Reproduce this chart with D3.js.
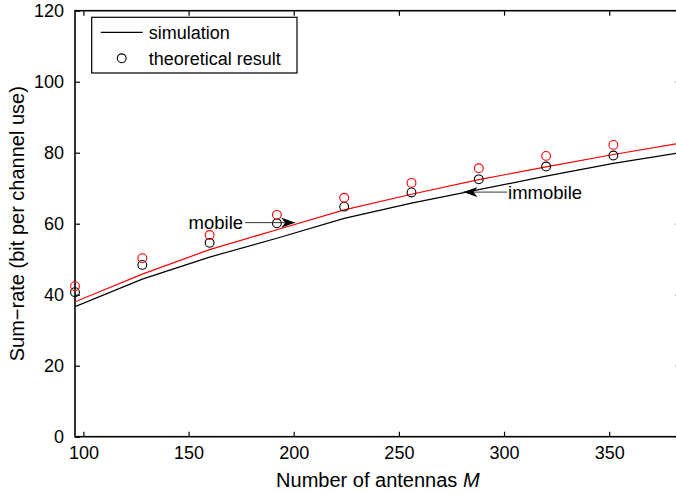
<!DOCTYPE html>
<html lang="en">
  <head>
    <meta charset="UTF-8" />
    <title>Sum-rate vs number of antennas</title>
    <style>
      body {
        margin: 0;
        background: #fff;
        font-family: "Liberation Sans", Arial, sans-serif;
      }
      svg text {
        fill: #000;
      }
    </style>
  </head>
  <body>
    <div id="chart"></div>
    <script src="https://d3js.org/d3.v7.min.js"></script>
    <script>
      // data
      const antennas = [96, 128, 160, 192, 224, 256, 288, 320, 352, 384];
      const simMobile = [38.0, 45.8, 52.7, 58.3, 63.9, 68.3, 72.4, 76.0, 79.5, 82.7];
      const simImmobile = [36.6, 44.4, 50.6, 55.9, 61.5, 65.8, 69.6, 73.4, 77.0, 80.0];
      const theoryM = [96, 128, 160, 192, 224, 256, 288, 320, 352];
      const theoryMobile = [42.4, 50.3, 56.8, 62.5, 67.3, 71.5, 75.6, 79.1, 82.2];
      const theoryImmobile = [40.7, 48.4, 54.6, 60.1, 64.8, 68.8, 72.5, 76.1, 79.2];
      const xTicks = [100, 150, 200, 250, 300, 350];
      const yTicks = [0, 20, 40, 60, 80, 100, 120];

      const width = 676;
      const height = 493;
      const margin = { top: 10.7, left: 75, right: -4.7, bottom: 56.3 };
      const x0 = margin.left, x1 = width - margin.right;
      const y0 = height - margin.bottom, y1 = margin.top;

      const svg = d3
        .select("#chart")
        .append("svg")
        .attr("width", width)
        .attr("height", height);

      const x = d3.scaleLinear().domain([96, 384]).range([x0, x1]);
      const y = d3.scaleLinear().domain([0, 120]).range([y0, y1]);

      svg.append("clipPath").attr("id", "clip")
        .append("rect")
        .attr("x", x0).attr("y", y1)
        .attr("width", x1 - x0).attr("height", y0 - y1);

      // axes, ticks pointing inward, mirrored on top/right
      const tickLen = 5;
      const fs = 18;
      svg.append("g")
        .attr("transform", `translate(0,${y0})`)
        .call(d3.axisBottom(x).tickValues(xTicks).tickSizeInner(-tickLen).tickSizeOuter(0).tickPadding(10))
        .call((g) => g.select(".domain").remove());
      svg.append("g")
        .attr("transform", `translate(0,${y1})`)
        .call(d3.axisTop(x).tickValues(xTicks).tickSizeInner(-tickLen).tickSizeOuter(0).tickFormat(""))
        .call((g) => g.select(".domain").remove());
      svg.append("g")
        .attr("transform", `translate(${x0},0)`)
        .call(d3.axisLeft(y).tickValues(yTicks).tickSizeInner(-tickLen).tickSizeOuter(0).tickPadding(11))
        .call((g) => g.select(".domain").remove());
      svg.append("g")
        .attr("transform", `translate(${x1},0)`)
        .call(d3.axisRight(y).tickValues(yTicks).tickSizeInner(-tickLen).tickSizeOuter(0).tickFormat(""))
        .call((g) => g.select(".domain").remove());

      svg.selectAll(".tick line").attr("stroke", "#000").attr("stroke-width", 1.2);
      svg.selectAll(".tick text")
        .attr("font-family", "'Liberation Sans', Arial, sans-serif")
        .attr("font-size", fs);

      svg.append("rect")
        .attr("x", x0).attr("y", y1)
        .attr("width", x1 - x0).attr("height", y0 - y1)
        .attr("fill", "none")
        .attr("stroke", "#000")
        .attr("stroke-width", 1.6);

      // simulation curves
      const line = d3.line()
        .x((d) => x(d[0]))
        .y((d) => y(d[1]));
      const plot = svg.append("g").attr("clip-path", "url(#clip)");
      plot.append("path")
        .datum(antennas.map((m, i) => [m, simImmobile[i]]))
        .attr("d", line)
        .attr("fill", "none")
        .attr("stroke", "#000")
        .attr("stroke-width", 1.2);
      plot.append("path")
        .datum(antennas.map((m, i) => [m, simMobile[i]]))
        .attr("d", line)
        .attr("fill", "none")
        .attr("stroke", "#ff0000")
        .attr("stroke-width", 1.2);

      // theoretical markers
      const drawMarkers = (vals, color) => {
        svg.append("g")
          .selectAll("circle")
          .data(theoryM.map((m, i) => [m, vals[i]]))
          .join("circle")
          .attr("cx", (d) => x(d[0]))
          .attr("cy", (d) => y(d[1]))
          .attr("r", 4.4)
          .attr("fill", "none")
          .attr("stroke", color)
          .attr("stroke-width", 1.1);
      };
      drawMarkers(theoryImmobile, "#000");
      drawMarkers(theoryMobile, "#ff0000");

      // annotations
      const defs = svg.append("defs");
      defs.append("marker")
        .attr("id", "head")
        .attr("viewBox", "0 0 14 10")
        .attr("refX", 14).attr("refY", 5)
        .attr("markerWidth", 14).attr("markerHeight", 10)
        .attr("markerUnits", "userSpaceOnUse")
        .attr("orient", "auto")
        .append("path")
        .attr("d", "M0,0 L14,5 L0,10 L4,5 Z")
        .attr("fill", "#000");

      const arrows = [
        { from: [176.9, 60.3], to: [200.7, 60.3], label: "mobile", at: [175.9, 58.4], anchor: "end" },
        { from: [301.4, 68.9], to: [280.7, 68.9], label: "immobile", at: [301.9, 67.0], anchor: "start" },
      ];
      arrows.forEach((a) => {
        svg.append("line")
          .attr("x1", x(a.from[0])).attr("y1", y(a.from[1]))
          .attr("x2", x(a.to[0])).attr("y2", y(a.to[1]))
          .attr("stroke", "#333")
          .attr("stroke-width", 1)
          .attr("marker-end", "url(#head)");
        svg.append("text")
          .attr("x", x(a.at[0])).attr("y", y(a.at[1]))
          .attr("text-anchor", a.anchor)
          .attr("font-size", 18.5)
          .text(a.label);
      });

      // legend
      const lg = svg.append("g").attr("transform", "translate(91.7,17.3)");
      lg.append("rect")
        .attr("width", 205.3).attr("height", 55.7)
        .attr("fill", "#fff")
        .attr("stroke", "#000")
        .attr("stroke-width", 1.2);
      lg.append("line")
        .attr("x1", 9).attr("x2", 51).attr("y1", 15).attr("y2", 15)
        .attr("stroke", "#000").attr("stroke-width", 1.2);
      lg.append("text").attr("x", 57).attr("y", 21.5).attr("font-size", 18).text("simulation");
      lg.append("circle")
        .attr("cx", 30).attr("cy", 41).attr("r", 4.4)
        .attr("fill", "none").attr("stroke", "#000").attr("stroke-width", 1.1);
      lg.append("text").attr("x", 57).attr("y", 47.5).attr("font-size", 18).text("theoretical result");

      // axis labels
      const xl = svg.append("text")
        .attr("x", (x0 + x1) / 2)
        .attr("y", 487)
        .attr("text-anchor", "middle")
        .attr("font-size", 20);
      xl.append("tspan").text("Number of antennas ");
      xl.append("tspan").attr("font-style", "italic").text("M");

      svg.append("text")
        .attr("transform", `translate(24,${(y0 + y1) / 2}) rotate(-90)`)
        .attr("text-anchor", "middle")
        .attr("font-size", 20)
        .text("Sum\u2212rate (bit per channel use)");
    </script>
  </body>
</html>
